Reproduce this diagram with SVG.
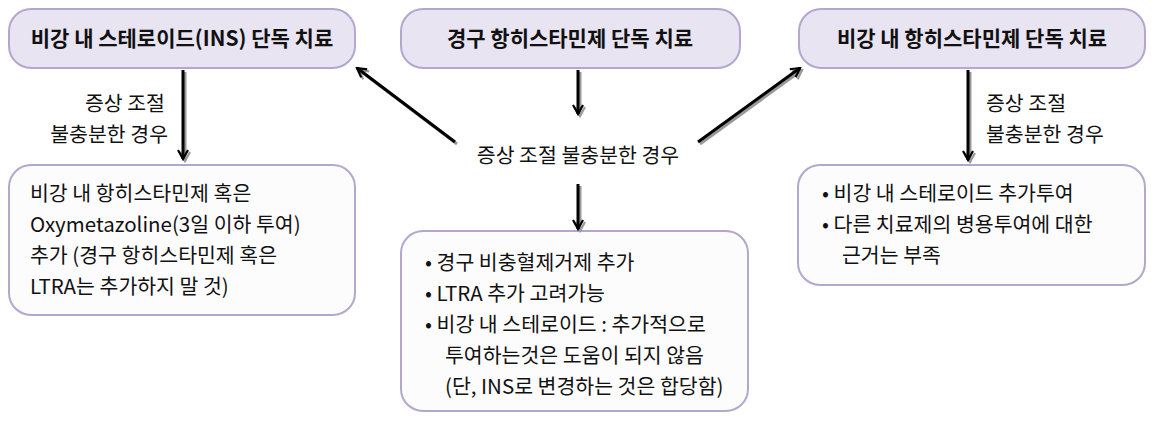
<svg xmlns="http://www.w3.org/2000/svg" width="1156" height="426" viewBox="0 0 1156 426">
<defs>
<marker id="ah" viewBox="0 0 12 12" refX="10" refY="6" markerWidth="12" markerHeight="12" markerUnits="userSpaceOnUse" orient="auto"><path d="M1,1 L10,6 L1,11" fill="none" stroke="#000" stroke-width="2.2"/></marker>
<marker id="as" viewBox="0 0 12 12" refX="10" refY="6" markerWidth="12" markerHeight="12" markerUnits="userSpaceOnUse" orient="auto"><path d="M1,1 L10,6 L1,11" fill="none" stroke="#999" stroke-width="2.2"/></marker>
</defs>
<style>
text{font-family:"Noto Sans CJK KR","Noto Sans",sans-serif;fill:#111;font-size:20.5px}
.t{font-weight:bold;text-anchor:middle;font-size:21px}
.top{fill:#e8e4f1;stroke:#b4a7cf;stroke-width:2}
.bot{fill:#fcfcfc;stroke:#b4a7cf;stroke-width:2}
.ln{stroke:#000;stroke-width:3;marker-end:url(#ah)}
.sh{stroke:#999;stroke-width:3;marker-end:url(#as)}
</style>
<g id="n1"><rect class="top" x="9" y="9" width="346" height="59" rx="22"/><text class="t" x="182" y="46">비강 내 스테로이드(INS) 단독 치료</text></g>
<g id="n2"><rect class="top" x="401" y="9" width="339" height="59" rx="22"/><text class="t" x="570" y="46">경구 항히스타민제 단독 치료</text></g>
<g id="n3"><rect class="top" x="799" y="9" width="346" height="59" rx="22"/><text class="t" x="972" y="46">비강 내 항히스타민제 단독 치료</text></g>
<g id="n4"><rect class="bot" x="9" y="165" width="346" height="150" rx="22"/>
<text x="30" y="201">비강 내 항히스타민제 혹은</text>
<text x="30" y="232">Oxymetazoline(3일 이하 투여)</text>
<text x="30" y="263">추가 (경구 항히스타민제 혹은</text>
<text x="30" y="294">LTRA는 추가하지 말 것)</text></g>
<g id="n5"><rect class="bot" x="401" y="231" width="347" height="180" rx="22"/>
<text x="425" y="270">•  경구 비충혈제거제 추가</text>
<text x="425" y="301">•  LTRA 추가 고려가능</text>
<text x="425" y="332">•  비강 내 스테로이드 : 추가적으로</text>
<text x="445" y="363">투여하는것은 도움이 되지 않음</text>
<text x="445" y="394">(단, INS로 변경하는 것은 합당함)</text></g>
<g id="n6"><rect class="bot" x="798" y="165" width="347" height="120" rx="22"/>
<text x="822" y="201">•  비강 내 스테로이드 추가투여</text>
<text x="822" y="232">•  다른 치료제의 병용투여에 대한</text>
<text x="842" y="263">근거는 부족</text></g>
<g id="mid"><text x="578" y="163" text-anchor="middle">증상 조절 불충분한 경우</text></g>
<g id="connectors">
<line class="sh" x1="185" y1="72" x2="185" y2="161"/><line class="ln" x1="183" y1="70" x2="183" y2="159"/>
<line class="sh" x1="580" y1="72" x2="580" y2="116"/><line class="ln" x1="578" y1="70" x2="578" y2="114"/>
<line class="sh" x1="580" y1="186" x2="580" y2="231"/><line class="ln" x1="578" y1="184" x2="578" y2="229"/>
<line class="sh" x1="457" y1="144" x2="359" y2="70"/><line class="ln" x1="455" y1="142" x2="357" y2="68"/>
<line class="sh" x1="700" y1="144" x2="802" y2="70"/><line class="ln" x1="698" y1="142" x2="800" y2="68"/>
<line class="sh" x1="970" y1="72" x2="970" y2="162"/><line class="ln" x1="968" y1="70" x2="968" y2="160"/>
</g>
<g id="labels">
<text x="165" y="111" text-anchor="end">증상 조절</text>
<text x="168" y="142" text-anchor="end">불충분한 경우</text>
<text x="986" y="111">증상 조절</text>
<text x="986" y="142">불충분한 경우</text>
</g>
</svg>
